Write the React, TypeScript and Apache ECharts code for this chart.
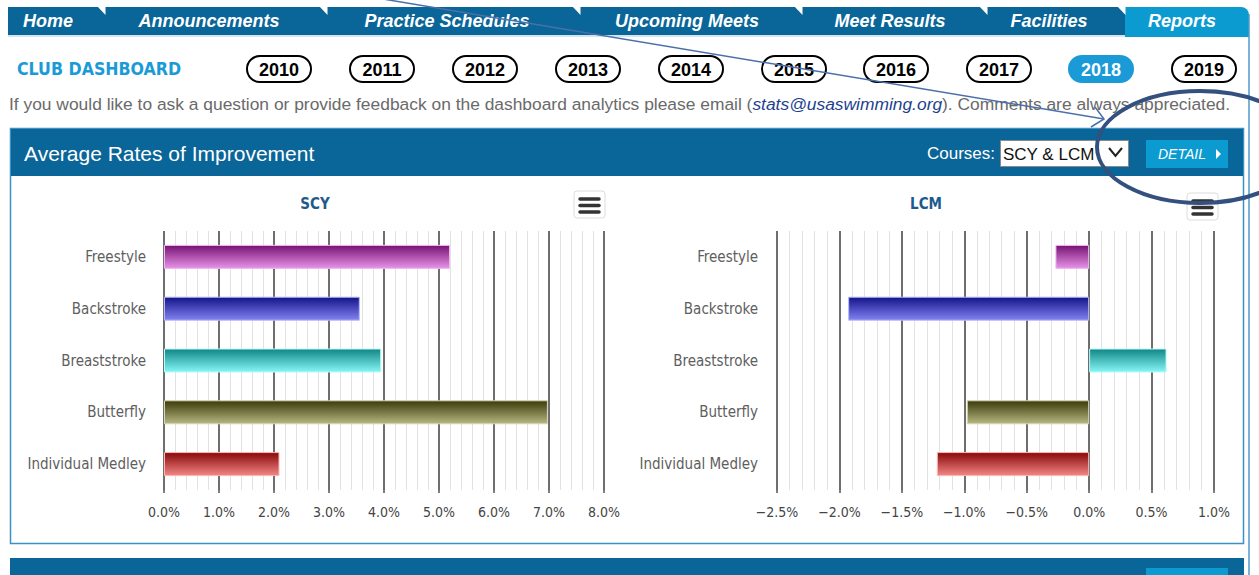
import React, { useEffect, useRef } from "react";
import * as echarts from "echarts";

const categories = ["Freestyle", "Backstroke", "Breaststroke", "Butterfly", "Individual Medley"];
const scyValues = [5.2, 3.56, 3.95, 6.98, 2.1];
const lcmValues = [-0.27, -1.93, 0.62, -0.98, -1.22];
const scyAxis = { min: 0, max: 8, interval: 1 };
const lcmAxis = { min: -2.5, max: 1, interval: 0.5 };
const navTabs = ["Home", "Announcements", "Practice Schedules", "Upcoming Meets", "Meet Results", "Facilities", "Reports"];
const years = ["2010", "2011", "2012", "2013", "2014", "2015", "2016", "2017", "2018", "2019"];
const selectedYear = "2018";

const navTabCenters = [48, 209, 447, 687, 890, 1049, 1182];
const notchX = [105, 327, 580, 802, 987, 1125];
const yearCenters = [279, 382, 485, 588, 691, 794, 896, 999, 1101, 1204];
const barTop = ["#761274", "#14148a", "#118686", "#3b3b0b", "#880808"];
const barBottom = ["#e893e6", "#8282f2", "#86f6f6", "#b7b782", "#f48686"];
const barBorder = ["#f0b8ee", "#b8b8f6", "#b8fafa", "#d6d6b6", "#f8b8b8"];

const NAV = "#0a6598";
const LIGHT = "#0b9bd1";
const CLUB = "#1a9bd7";
const CHART_FONT = "'DejaVu Sans Condensed', 'DejaVu Sans', sans-serif";
const NARROW = "'Liberation Sans Narrow', 'Liberation Sans', Arial, sans-serif";
const SANS = "'Liberation Sans', Arial, sans-serif";

function pct(v: number) {
  return (v < 0 ? "\u2212" : "") + Math.abs(v).toFixed(1) + "%";
}

function txt(x: number, y: number, text: string, style: any, extra: any = {}) {
  return {
    type: "text",
    x,
    y,
    ...extra,
    style: {
      text,
      textAlign: style.align || "left",
      align: style.align || "left",
      textVerticalAlign: "middle",
      verticalAlign: "middle",
      ...style,
    },
  };
}

function barData(values: number[]) {
  return values.map((v, i) => ({
    value: v,
    itemStyle: {
      color: new echarts.graphic.LinearGradient(0, 0, 0, 1, [
        { offset: 0, color: barTop[i] },
        { offset: 1, color: barBottom[i] },
      ]),
      borderColor: barBorder[i],
      borderWidth: 1,
    },
  }));
}

function xAxisFor(gridIndex: number, a: { min: number; max: number; interval: number }) {
  return {
    gridIndex,
    type: "value",
    min: a.min,
    max: a.max,
    interval: a.interval,
    axisLine: { show: false },
    axisTick: { show: true, length: 3, lineStyle: { color: "#555", width: 1.5 } },
    axisLabel: { formatter: pct, color: "#444", fontSize: 14, fontFamily: CHART_FONT, margin: 15 },
    splitLine: { show: true, lineStyle: { color: "#4a4a4a", width: 1.6 } },
    minorTick: { show: false, splitNumber: 5 },
    minorSplitLine: { show: true, lineStyle: { color: "#e2e2e2", width: 1 } },
  };
}

function yAxisFor(gridIndex: number, margin: number) {
  return {
    gridIndex,
    type: "category",
    data: categories,
    inverse: true,
    axisLine: { show: false },
    axisTick: { show: false },
    axisLabel: { color: "#5e5e5e", fontSize: 15, fontFamily: CHART_FONT, margin },
  };
}

function hamburger(x: number, y: number, w: number, h: number) {
  const lines = [0, 1, 2].map((k) => ({
    type: "line",
    shape: { x1: x + 6, y1: y + 8 + k * 6.5, x2: x + w - 6, y2: y + 8 + k * 6.5 },
    style: { stroke: "#333", lineWidth: 3.5, lineCap: "round" },
  }));
  return [
    {
      type: "rect",
      shape: { x, y, width: w, height: h, r: 3 },
      style: { fill: "#fff", stroke: "#dcdcdc", lineWidth: 1 },
    },
    ...lines,
  ];
}

export default function App() {
  const ref = useRef<HTMLDivElement>(null);
  useEffect(() => {
    if (!ref.current) return;
    const chart = echarts.init(ref.current, undefined, { renderer: "svg" });

    const graphics: any[] = [];
    // nav bar
    graphics.push({ type: "rect", shape: { x: 8, y: 7, width: 1117, height: 28 }, style: { fill: NAV } });
    graphics.push({ type: "rect", shape: { x: 1125, y: 7, width: 124, height: 30, r: [0, 8, 0, 0] }, style: { fill: LIGHT } });
    graphics.push({ type: "rect", shape: { x: 8, y: 35, width: 1117, height: 2 }, style: { fill: "#d3e5f0" } });
    notchX.forEach((xr) => {
      graphics.push({ type: "polygon", shape: { points: [[xr - 8, 6], [xr + 0.5, 6], [xr + 0.5, 15]] }, style: { fill: "#fff" } });
    });
    navTabs.forEach((t, i) => {
      graphics.push(
        txt(navTabCenters[i], 21, t, {
          align: "center",
          fill: "#fff",
          fontSize: 18,
          fontWeight: "bold",
          fontStyle: "italic",
          fontFamily: NARROW,
        })
      );
    });
    // outer right border
    graphics.push({ type: "line", shape: { x1: 1249, y1: 14, x2: 1249, y2: 575 }, style: { stroke: "#4f9acb", lineWidth: 1.5 } });

    // club dashboard header row
    graphics.push(
      txt(17, 69, "CLUB DASHBOARD", {
        fill: CLUB,
        fontSize: 17.6,
        fontWeight: "bold",
        fontFamily: CHART_FONT,
      })
    );
    years.forEach((y, i) => {
      const cx = yearCenters[i];
      const sel = y === selectedYear;
      graphics.push({
        type: "rect",
        shape: { x: cx - 32, y: 56, width: 64, height: 26, r: 13 },
        style: { fill: sel ? CLUB : "#fff", stroke: sel ? CLUB : "#000", lineWidth: 2 },
      });
      graphics.push(
        txt(cx, 69.5, y, {
          align: "center",
          fill: sel ? "#fff" : "#000",
          fontSize: 18,
          fontWeight: "bold",
          fontFamily: NARROW,
        })
      );
    });
    graphics.push(
      txt(
        9,
        104,
        "If you would like to ask a question or provide feedback on the dashboard analytics please email ({e|stats@usaswimming.org}). Comments are always appreciated.",
        {
          fill: "#6a6a6a",
          fontSize: 17.4,
          fontFamily: SANS,
          rich: {
            e: { fill: "#1e3f8f", fontStyle: "italic", fontSize: 17.4, fontFamily: SANS },
          },
        }
      )
    );

    // panel
    graphics.push({
      type: "rect",
      shape: { x: 10.5, y: 128.5, width: 1233, height: 415 },
      style: { fill: "none", stroke: "#3d8fc4", lineWidth: 1.5 },
    });
    graphics.push({ type: "rect", shape: { x: 11, y: 129, width: 1232, height: 47 }, style: { fill: NAV } });
    graphics.push(txt(24, 153, "Average Rates of Improvement", { fill: "#fff", fontSize: 21, fontFamily: SANS }));
    graphics.push(txt(995, 153, "Courses:", { align: "right", fill: "#fff", fontSize: 17, fontFamily: SANS }));
    graphics.push({
      type: "rect",
      shape: { x: 1000.5, y: 140.5, width: 128, height: 26 },
      style: { fill: "#fff", stroke: "#8a8a8a", lineWidth: 1 },
    });
    graphics.push(txt(1003, 154, "SCY & LCM", { fill: "#111", fontSize: 17, fontFamily: SANS }));
    graphics.push({
      type: "polyline",
      shape: { points: [[1109, 148], [1115.5, 156], [1122, 148]] },
      style: { stroke: "#222", lineWidth: 2, fill: "none" },
    });
    graphics.push({ type: "rect", shape: { x: 1146, y: 140, width: 82, height: 28 }, style: { fill: LIGHT } });
    graphics.push(
      txt(1158, 154, "DETAIL", { fill: "#fff", fontSize: 14, fontStyle: "italic", fontFamily: SANS })
    );
    graphics.push({
      type: "polygon",
      shape: { points: [[1216, 149], [1221, 154], [1216, 159]] },
      style: { fill: "#fff" },
    });

    // chart titles & menu buttons
    graphics.push(txt(315, 204, "SCY", { align: "center", fill: "#1f5a8c", fontSize: 15, fontWeight: "bold", fontFamily: CHART_FONT }));
    graphics.push(txt(926, 204, "LCM", { align: "center", fill: "#1f5a8c", fontSize: 15, fontWeight: "bold", fontFamily: CHART_FONT }));
    graphics.push(...hamburger(574, 191, 31, 27));
    graphics.push(...hamburger(1187, 193, 31, 27));

    // bottom panel
    graphics.push({ type: "rect", shape: { x: 10, y: 558, width: 1234, height: 20 }, style: { fill: NAV } });
    graphics.push({ type: "rect", shape: { x: 1146, y: 568, width: 82, height: 10 }, style: { fill: LIGHT } });

    // annotation
    graphics.push({
      type: "line",
      z: 100,
      shape: { x1: 383, y1: -1, x2: 1104, y2: 119 },
      style: { stroke: "#4a70aa", lineWidth: 1.5 },
    });
    graphics.push({
      type: "polyline",
      z: 100,
      shape: { points: [[1095, 107], [1104, 119], [1091, 127]] },
      style: { stroke: "#4a70aa", lineWidth: 1.5, fill: "none" },
    });
    graphics.push({
      type: "ellipse",
      z: 100,
      shape: { cx: 1200, cy: 147, rx: 103, ry: 56 },
      style: { stroke: "#34507f", lineWidth: 4, fill: "none" },
    });

    const option: any = {
      animation: false,
      backgroundColor: "#fff",
      graphic: { elements: graphics },
      grid: [
        { left: 164, top: 231, width: 440, height: 259 },
        { left: 777, top: 231, width: 437, height: 259 },
      ],
      xAxis: [xAxisFor(0, scyAxis), xAxisFor(1, lcmAxis)],
      yAxis: [yAxisFor(0, 18), yAxisFor(1, 19)],
      series: [
        { type: "bar", xAxisIndex: 0, yAxisIndex: 0, barWidth: 24, data: barData(scyValues) },
        { type: "bar", xAxisIndex: 1, yAxisIndex: 1, barWidth: 24, data: barData(lcmValues) },
      ],
    };
    chart.setOption(option);
    return () => chart.dispose();
  }, []);

  return (
    <div
      ref={ref}
      style={{ position: "fixed", left: 0, top: 0, width: 1259, height: 575, background: "#fff" }}
    />
  );
}
